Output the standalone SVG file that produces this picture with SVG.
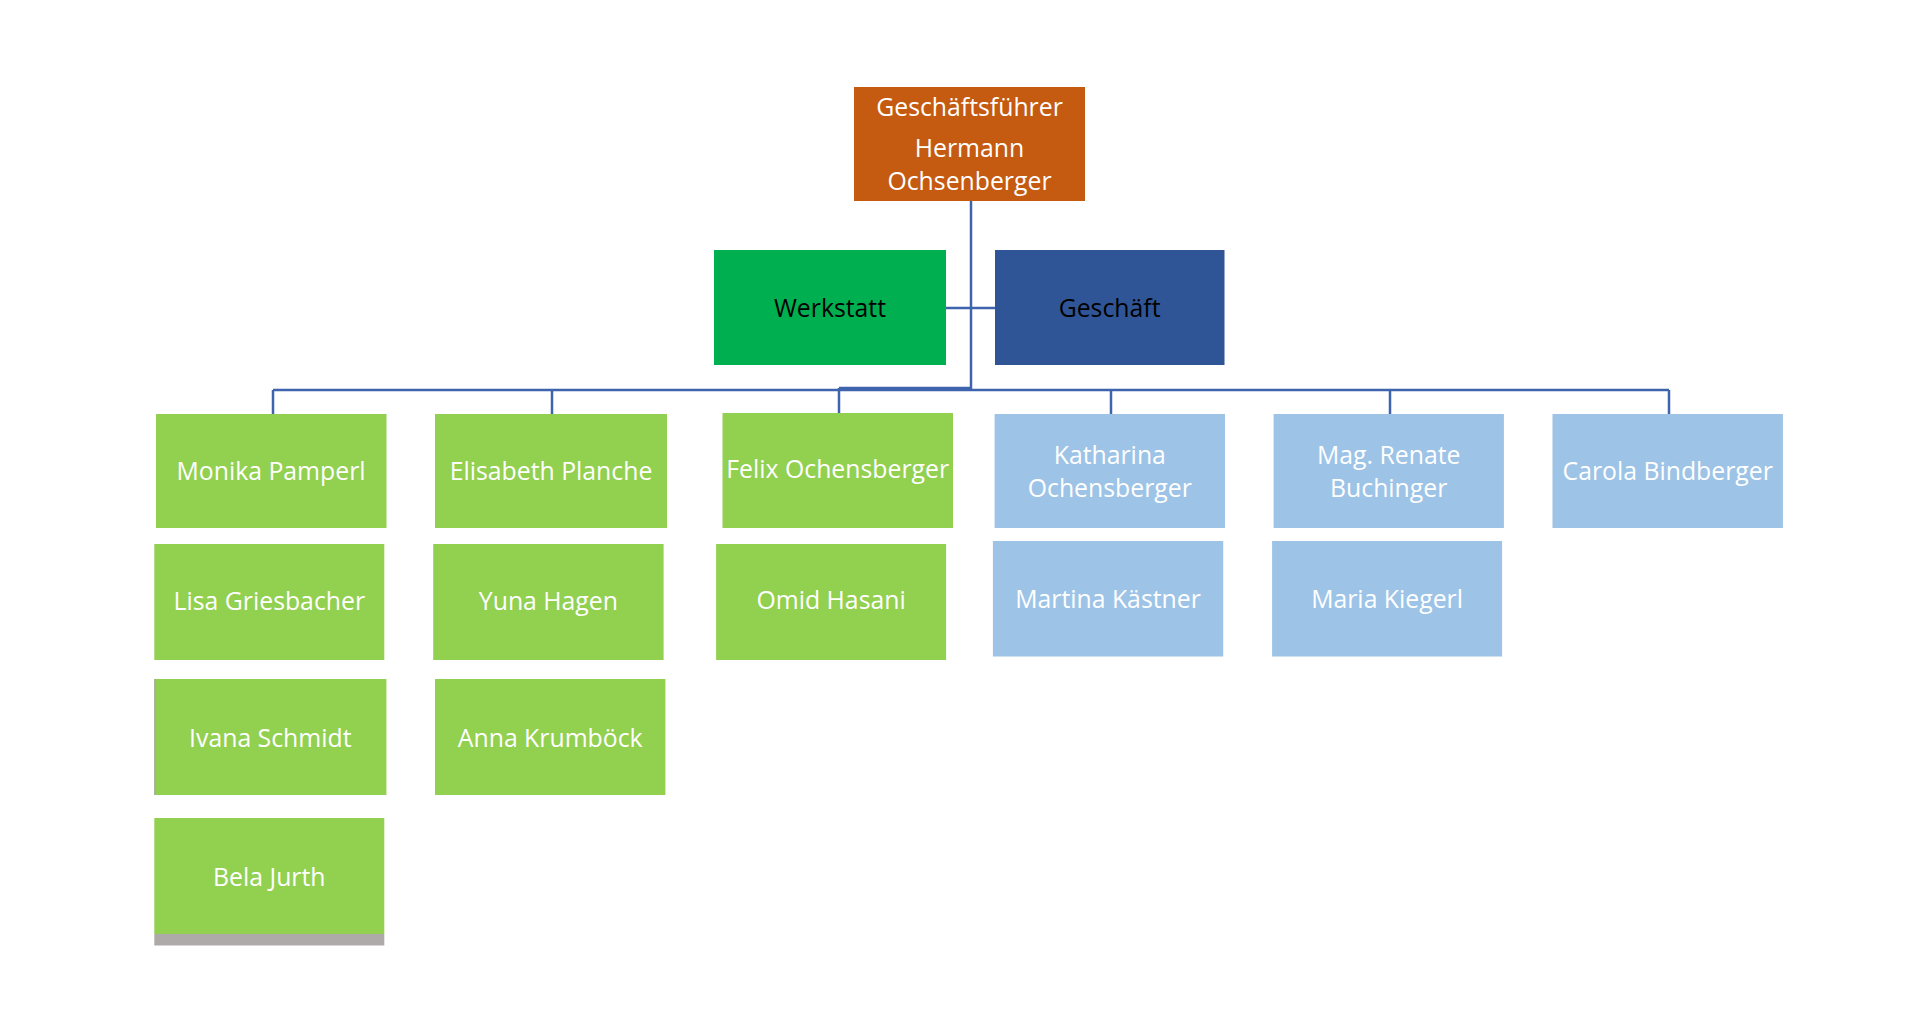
<svg xmlns="http://www.w3.org/2000/svg" width="1920" height="1019" viewBox="0 0 1920 1019">
<style>
.t{font-family:"Open Sans","Noto Sans",sans-serif;font-size:24.8px;font-weight:500;text-anchor:middle;fill:#ffffff}
.d{fill:#000000}
.g{fill:#92D050}
.b{fill:#9DC3E6}
.c{fill:none;stroke:#3E64AD;stroke-width:2.5}
</style>
<rect width="1920" height="1019" fill="#ffffff"/>
<g id="connectors">
<path class="c" d="M971 201V390M946 308H995M273 390H1669M273 390V417M552 390V417M839 388V413M839 388H971M1111 390V417M1390 390V417M1669 390V417"/>
</g>
<g id="ceo"><rect x="854" y="87" width="231" height="114" fill="#C55A11"/><text class="t" x="969.5" y="116">Geschäftsführer</text><text class="t" x="969.5" y="156.5">Hermann</text><text class="t" x="969.5" y="189.5">Ochsenberger</text></g>
<g id="werkstatt"><rect x="714" y="250" width="232" height="115" fill="#00B050"/><text class="t d" x="830" y="317">Werkstatt</text></g>
<g id="geschaeft"><rect x="995" y="250" width="229.5" height="115" fill="#2F5597"/><text class="t d" x="1109.6" y="317">Geschäft</text></g>
<g id="monika"><rect class="g" x="156" y="414" width="230.5" height="114"/><text class="t" x="271" y="480">Monika Pamperl</text></g>
<g id="elisabeth"><rect class="g" x="435" y="414" width="232" height="114"/><text class="t" x="551" y="480">Elisabeth Planche</text></g>
<g id="felix"><rect class="g" x="722.5" y="413" width="230.5" height="115"/><text class="t" x="837.7" y="478">Felix Ochensberger</text></g>
<g id="katharina"><rect class="b" x="994.6" y="414" width="230.4" height="114"/><text class="t" x="1109.8" y="464">Katharina</text><text class="t" x="1109.8" y="497">Ochensberger</text></g>
<g id="renate"><rect class="b" x="1273.6" y="414" width="230.3" height="114"/><text class="t" x="1388.7" y="463.5">Mag. Renate</text><text class="t" x="1388.7" y="496.5">Buchinger</text></g>
<g id="carola"><rect class="b" x="1552.5" y="414" width="230.4" height="114"/><text class="t" x="1667.7" y="479.5">Carola Bindberger</text></g>
<g id="lisa"><rect class="g" x="154.3" y="544" width="230" height="116"/><text class="t" x="269.3" y="610">Lisa Griesbacher</text></g>
<g id="yuna"><rect class="g" x="433.2" y="544" width="230.4" height="116"/><text class="t" x="548.4" y="610">Yuna Hagen</text></g>
<g id="omid"><rect class="g" x="716.1" y="544" width="230" height="116"/><text class="t" x="831.1" y="609">Omid Hasani</text></g>
<g id="martina"><rect class="b" x="992.9" y="541" width="230.3" height="115.5"/><text class="t" x="1108" y="608">Martina Kästner</text></g>
<g id="maria"><rect class="b" x="1272.1" y="541" width="230" height="115.5"/><text class="t" x="1387.1" y="607.7">Maria Kiegerl</text></g>
<g id="ivana"><rect class="g" x="154.3" y="679" width="232.1" height="116"/><rect x="154.3" y="679" width="1.5" height="116" fill="#A9A6A6"/><text class="t" x="270.3" y="747">Ivana Schmidt</text></g>
<g id="anna"><rect class="g" x="435" y="679" width="230.4" height="116"/><text class="t" x="550.2" y="747">Anna Krumböck</text></g>
<g id="bela"><rect class="g" x="154.3" y="818" width="230" height="116"/><rect x="154.3" y="934" width="230" height="11.5" fill="#AEAAAA"/><text class="t" x="269.3" y="885.5">Bela Jurth</text></g>
</svg>
